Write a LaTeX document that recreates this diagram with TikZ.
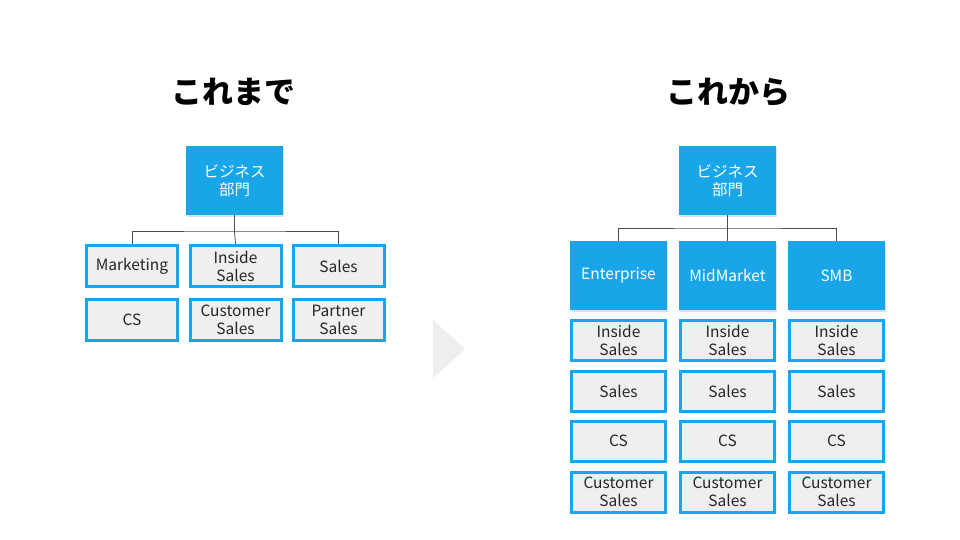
\documentclass[tikz,border=0pt]{standalone}
\usepackage{fontspec}
\setmainfont{Noto Sans CJK JP}
\usetikzlibrary{shadows}
\definecolor{deptblue}{HTML}{19A6E9}
\definecolor{cellgray}{HTML}{EFEFEF}
\definecolor{arrowgray}{HTML}{EEEEEE}
\tikzset{
  dept/.style={fill=deptblue, text=white, minimum width=97pt, minimum height=69pt,
    align=center, inner sep=0pt, font=\fontsize{15.5}{18}\selectfont,
    drop shadow={shadow xshift=1pt, shadow yshift=-1.5pt, opacity=0.25}},
  cell/.style={fill=cellgray, draw=deptblue, line width=3pt, text=black!85,
    align=center, inner sep=0pt, font=\fontsize{15.5}{18}\selectfont,
    drop shadow={shadow xshift=1pt, shadow yshift=-1.5pt, opacity=0.25}},
  lcell/.style={cell, minimum width=91pt, minimum height=41pt},
  rcell/.style={cell, minimum width=94pt, minimum height=40pt},
  conn/.style={draw=black!70, line width=0.8pt},
  heading/.style={font=\fontsize{31}{36}\selectfont\bfseries}
}
\begin{document}
\begin{tikzpicture}[x=1pt, y=-1pt]
  \useasboundingbox (0,0) rectangle (960,540);
  \fill[white] (0,0) rectangle (960,540);

  % before
  \node[heading] (tbefore) at (233,92) {これまで};
  \node[dept] (ltop) at (234.5,180.5) {ビジネス\\部門};
  \node[lcell] (lmk) at (132,266) {Marketing};
  \node[lcell] (lis) at (235.5,266) {Inside\\Sales};
  \node[lcell] (lsl) at (338.5,266) {Sales};
  \node[lcell] (lcs) at (132,320) {CS};
  \node[lcell] (lcu) at (235.5,320) {Customer\\Sales};
  \node[lcell] (lps) at (338.5,320) {Partner\\Sales};
  \coordinate (lbar) at (234.5,231);
  \draw[conn] (ltop.south) -- (lbar);
  \draw[conn] (lmk.north) |- (lbar) -| (lsl.north);
  \draw[conn] (lbar) -- (lis.north);

  \fill[arrowgray] (433,320) -- (465,349) -- (433,378) -- cycle;

  % after
  \node[heading] (tafter) at (728,92) {これから};
  \node[dept] (rtop) at (727.5,180.5) {ビジネス\\部門};
  \foreach \seg/\x in {ent/618.5, mid/727.5, smb/836.5} {
    \node[rcell] (\seg is) at (\x,340.5) {Inside\\Sales};
    \node[rcell] (\seg sl) at (\x,391) {Sales};
    \node[rcell] (\seg cs) at (\x,441) {CS};
    \node[rcell] (\seg cu) at (\x,492) {Customer\\Sales};
  }
  \node[dept] (ent) at (618.5,275.5) {Enterprise};
  \node[dept] (mid) at (727.5,275.5) {MidMarket};
  \node[dept] (smb) at (836.5,275.5) {SMB};
  \coordinate (rbar) at (727.5,228);
  \draw[conn] (rtop.south) -- (rbar);
  \draw[conn] (ent.north) |- (rbar) -| (smb.north);
  \draw[conn] (rbar) -- (mid.north);
\end{tikzpicture}
\end{document}
